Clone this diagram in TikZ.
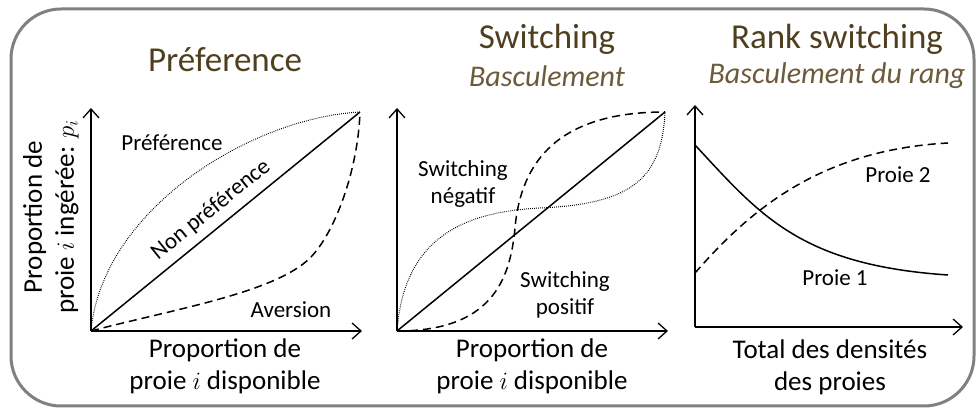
\documentclass[tikz,border=0pt]{standalone}
\usepackage{fontspec}
\setmainfont{Carlito}
\usetikzlibrary{arrows.meta}
\definecolor{titlebrown}{RGB}{79,63,31}
\definecolor{subbrown}{RGB}{108,90,58}
\definecolor{framegray}{RGB}{128,128,128}
\newcommand{\axes}[3]{% the two axes of a panel
  \draw [axis] (#1) -- (#2);
  \draw [axis] (#1) -- (#3);
  }

\begin{document}
\begin{tikzpicture}[
  x=1pt, y=-1pt,
  axis/.style={
    % line and tip
    line width=1.6pt,
    -{Straight Barb[length=9pt, width=16pt, line width=1.3pt]}
  },
  title/.style={
    font=\fontsize{35}{37}\selectfont,
    text=titlebrown,
    inner sep=0pt
  },
  subtitle/.style={
    font=\fontsize{30}{32}\selectfont\itshape,
    text=subbrown,
    inner sep=0pt
  },
  axislabel/.style={
    font=\fontsize{27}{32}\selectfont,
    align=center,
    inner sep=0pt
  },
  curvelabel/.style={
    font=\fontsize{23}{27}\selectfont,
    align=center,
    inner sep=0pt
  },
  solidcurve/.style={line width=1.5pt},
  dashcurve/.style={line width=1.5pt, dash pattern=on 8pt off 5pt},
  dotcurve/.style={line width=1pt, dash pattern=on 0.8pt off 1.2pt},
  ]

  \useasboundingbox (0,0) rectangle (978,411);

  % frame
  \draw [framegray, line width=3pt, rounded corners=50pt] (11,9) rectangle (974,406);

  % corners of the three panels
  \coordinate (o1) at (91,331);  \coordinate (x1) at (362,331);  \coordinate (y1) at (91,108);
  \coordinate (t1) at (360,112);
  \coordinate (o2) at (397,331); \coordinate (x2) at (668,331);  \coordinate (y2) at (397,108);
  \coordinate (t2) at (665,112);
  \coordinate (o3) at (695,327); \coordinate (x3) at (963,327);  \coordinate (y3) at (695,105);

  % titles
  \node (pref) [title] at (225,60) {Préference};
  \node (sw) [title] at (547,39) {Switching};
  \node (bas) [subtitle] at (547,76) {Basculement};
  \node (rank) [title] at (837,39) {Rank switching};
  \node (basr) [subtitle] at (837,76) {Basculement du rang};

  % axes
  \axes{o1}{x1}{y1}
  \axes{o2}{x2}{y2}
  \axes{o3}{x3}{y3}

  % panel 1
  \draw [solidcurve] (o1) -- (t1);
  \draw [dotcurve] (o1) .. controls (102,210) and (250,118) .. (t1);
  \draw [dashcurve] (o1) .. controls (170,310) and (275,293) .. (310,258)
                    .. controls (335,233) and (358,170) .. (t1);
  \node (lpref) [curvelabel] at (172,143) {Préférence};
  \node (lnon) [curvelabel, rotate=39] at (211,210) {Non préférence};
  \node (lav) [curvelabel] at (291,310) {Aversion};

  % panel 2
  \draw [solidcurve] (o2) -- (t2);
  \draw [dashcurve] (o2) .. controls (490,331) and (510,282) .. (515,228)
                    .. controls (521,160) and (560,112) .. (t2);
  \draw [dotcurve] (o2) .. controls (404,240) and (460,212) .. (540,208)
                    .. controls (630,204) and (662,180) .. (t2);
  \node (lneg) [curvelabel] at (463,184) {Switching\\négatif};
  \node (lpos) [curvelabel] at (565,295) {Switching\\positif};

  % panel 3
  \coordinate (s1) at (695,145); \coordinate (e1) at (948,275);
  \coordinate (s2) at (695,273); \coordinate (e2) at (948,143);
  \draw [solidcurve] (s1) .. controls (760,215) and (800,265) .. (e1);
  \draw [dashcurve] (s2) .. controls (750,210) and (820,150) .. (e2);
  \node (lp2) [curvelabel] at (898,175) {Proie 2};
  \node (lp1) [curvelabel] at (835,278) {Proie 1};

  % axis labels
  \node (xl1) [axislabel] at (225,366) {Proportion de\\proie $i$ disponible};
  \node (xl2) [axislabel] at (532,366) {Proportion de\\proie $i$ disponible};
  \node (xl3) [axislabel] at (830,367) {Total des densités\\des proies};
  \node (yl1) [axislabel, rotate=90] at (51,217) {Proportion de\\proie $i$ ingérée: $p_i$};

\end{tikzpicture}
\end{document}
